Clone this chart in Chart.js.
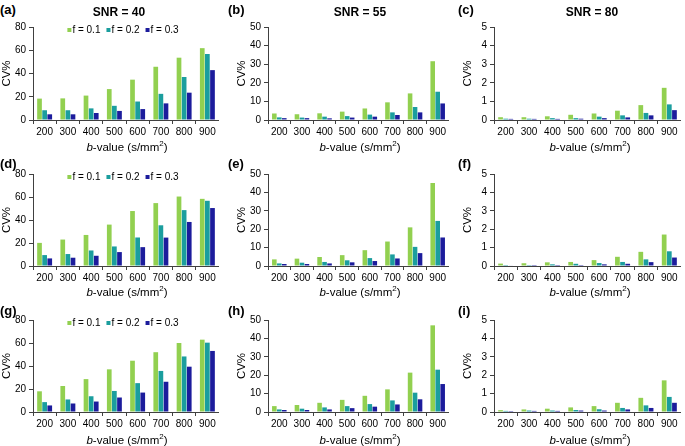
<!DOCTYPE html>
<html>
<head>
<meta charset="utf-8">
<script src="https://cdn.jsdelivr.net/npm/chart.js@4.4.1/dist/chart.umd.min.js"></script>
<style>
  body { margin: 0; background: #fff; width: 685px; height: 446px; position: relative; overflow: hidden;
         font-family: "Liberation Sans", Arial, sans-serif; color: #000; }
  .panel { position: absolute; }
  .lab { position: absolute; font-weight: bold; font-size: 13px; line-height: 13px; }
  .snr { position: absolute; font-weight: bold; font-size: 12px; line-height: 12px; width: 120px; text-align: center; }
  .xt { position: absolute; font-size: 11.5px; line-height: 12px; width: 120px; text-align: center; }
  .xt sup { font-size: 8px; line-height: 0; }
</style>
</head>
<body>
<script>
// b-values on the x axis and the three perfusion fractions
const bValues = ['200', '300', '400', '500', '600', '700', '800', '900'];
const fLabels = ['f = 0.1', 'f = 0.2', 'f = 0.3'];
const fColors = ['#92D050', '#1B9E9E', '#1C1C9C'];

// CV%, one array per series per panel
const a01 = [18.4, 18.6, 21, 26.6, 34.7, 45.8, 53.6, 61.8];
const a02 = [8.4, 8.4, 10, 12.2, 15.9, 22.5, 37, 56.8];
const a03 = [4.9, 4.9, 6, 7.8, 9.4, 14.3, 23.5, 42.9];

const b01 = [3.5, 3.1, 3.6, 4.5, 6.2, 9.5, 14.3, 31.6];
const b02 = [1.4, 1.3, 1.8, 2.1, 2.9, 4.1, 7, 15.2];
const b03 = [1.0, 1.0, 0.9, 1.3, 1.8, 2.7, 4.1, 8.9];

const c01 = [0.15, 0.15, 0.2, 0.28, 0.35, 0.5, 0.8, 1.73];
const c02 = [0.07, 0.07, 0.1, 0.1, 0.18, 0.25, 0.38, 0.84];
const c03 = [0.06, 0.06, 0.06, 0.07, 0.1, 0.14, 0.25, 0.53];

const d01 = [20.1, 23, 27, 36, 47.8, 54.7, 60.4, 58.4];
const d02 = [9.5, 10.4, 13.5, 17, 24.8, 35.4, 48.6, 56.7];
const d03 = [6.6, 7.2, 8.9, 12.1, 16.4, 24.7, 38.3, 50.4];

const e01 = [3.6, 4.0, 4.9, 5.9, 8.6, 13.3, 21, 45.1];
const e02 = [1.4, 1.8, 2.2, 3.1, 4.3, 6.3, 10.4, 24.5];
const e03 = [1.1, 1.1, 1.4, 2.0, 2.7, 4.1, 7.0, 15.5];

const f01 = [0.13, 0.15, 0.2, 0.22, 0.32, 0.5, 0.77, 1.71];
const f02 = [0.05, 0.05, 0.09, 0.12, 0.16, 0.22, 0.36, 0.8];
const f03 = [0.03, 0.05, 0.05, 0.05, 0.09, 0.12, 0.21, 0.46];

const g01 = [18, 22.6, 28.6, 37.1, 44.6, 52, 60, 62.9];
const g02 = [8.6, 10.9, 13.7, 18.3, 25.1, 35.7, 48.3, 60.3];
const g03 = [5.7, 7.4, 9.1, 12.6, 16.9, 26.3, 39.4, 53.1];

const h01 = [3.2, 3.8, 5.0, 6.6, 8.8, 12.3, 21.4, 47.1];
const h02 = [1.4, 1.8, 2.5, 3.2, 4.3, 6.3, 10.5, 23];
const h03 = [1.1, 1.1, 1.4, 2.1, 2.9, 4.1, 6.9, 15.2];

const i01 = [0.1, 0.14, 0.18, 0.25, 0.32, 0.5, 0.77, 1.72];
const i02 = [0.06, 0.08, 0.08, 0.11, 0.15, 0.22, 0.36, 0.82];
const i03 = [0.05, 0.06, 0.06, 0.08, 0.08, 0.14, 0.22, 0.5];

// axis ranges per column
const yMax = [80, 50, 5];
const yStep = [20, 10, 1];
const snrTitles = ['SNR = 40', 'SNR = 55', 'SNR = 80'];

const panels = [
  ['(a)', [a01, a02, a03]], ['(b)', [b01, b02, b03]], ['(c)', [c01, c02, c03]],
  ['(d)', [d01, d02, d03]], ['(e)', [e01, e02, e03]], ['(f)', [f01, f02, f03]],
  ['(g)', [g01, g02, g03]], ['(h)', [h01, h02, h03]], ['(i)', [i01, i02, i03]]
];

// page geometry
const colLeft = [0, 235, 461];
const colWidth = [219, 214, 220];
const rowTop = [18, 165, 311];
const rowHeight = [124, 123, 123];
const labelTop = [3, 157, 304];
const labelLeft = [0, 228, 458];
const xTitleTop = [141, 286, 434];
const xTitleCenter = [127, 360, 590];
const snrCenter = [119, 360, 592];

const axisColor = '#404040';
const font = { family: '"Liberation Sans", Arial, sans-serif', size: 10 };

// legend drawn inside the plot area, along the top
const innerLegend = {
  id: 'innerLegend',
  afterDraw(chart, args, opts) {
    if (!opts.show) return;
    const ctx = chart.ctx;
    const area = chart.chartArea;
    ctx.save();
    ctx.font = '10px "Liberation Sans", Arial, sans-serif';
    ctx.textBaseline = 'middle';
    const box = 4, gap = 1, spacing = 6;
    const items = chart.data.datasets.map(ds => ({ text: ds.label, color: ds.backgroundColor,
      w: box + gap + ctx.measureText(ds.label).width }));
    const total = items.reduce((s, it) => s + it.w, 0) + spacing * (items.length - 1);
    let x = (area.left + area.right) / 2 - total / 2 - 3;
    const y = area.top + opts.offset;
    items.forEach(it => {
      ctx.fillStyle = it.color;
      ctx.fillRect(x, y - box / 2, box, box);
      ctx.fillStyle = '#000';
      ctx.fillText(it.text, x + box + gap, y);
      x += it.w + spacing;
    });
    ctx.restore();
  }
};

function addText(cls, html, left, top) {
  const el = document.createElement('div');
  el.className = cls;
  el.innerHTML = html;
  el.style.left = left + 'px';
  el.style.top = top + 'px';
  document.body.appendChild(el);
}

panels.forEach(([label, series], k) => {
  const row = Math.floor(k / 3), col = k % 3;
  const wrap = document.createElement('div');
  wrap.className = 'panel';
  wrap.style.left = colLeft[col] + 'px';
  wrap.style.top = rowTop[row] + 'px';
  wrap.style.width = colWidth[col] + 'px';
  wrap.style.height = rowHeight[row] + 'px';
  const canvas = document.createElement('canvas');
  wrap.appendChild(canvas);
  document.body.appendChild(wrap);

  addText('lab', label, labelLeft[col], labelTop[row]);
  addText('xt', '<i>b</i>-value (s/mm<sup>2</sup>)', xTitleCenter[col] - 60, xTitleTop[row]);
  if (row === 0) addText('snr', snrTitles[col], snrCenter[col] - 60, 6);

  new Chart(canvas, {
    type: 'bar',
    data: {
      labels: bValues,
      datasets: series.map((vals, j) => ({
        label: fLabels[j],
        data: vals,
        backgroundColor: fColors[j],
        borderWidth: 0,
        categoryPercentage: 0.66,
        barPercentage: 0.92
      }))
    },
    options: {
      responsive: true,
      maintainAspectRatio: false,
      animation: false,
      layout: { padding: { top: 8, right: 0, left: 0, bottom: 0 } },
      plugins: {
        legend: { display: false },
        tooltip: { enabled: false },
        innerLegend: { show: col === 0, offset: 3 }
      },
      scales: {
        x: {
          grid: { display: true, drawOnChartArea: false, drawTicks: true, tickLength: 4,
                  color: axisColor, offset: true },
          border: { display: true, color: axisColor, width: 1 },
          ticks: { color: '#000', font: font, padding: 2, maxRotation: 0, autoSkip: false },
          afterFit: scale => { scale.height = 22; }
        },
        y: {
          min: 0,
          max: yMax[col],
          grid: { display: true, drawOnChartArea: false, drawTicks: true, tickLength: 4, color: axisColor },
          border: { display: true, color: axisColor, width: 1 },
          ticks: { stepSize: yStep[col], color: '#000', font: font, padding: 3 },
          title: { display: true, text: 'CV%', color: '#000',
                   font: { family: font.family, size: 11.5 }, padding: { top: 0, bottom: 0 } },
          afterFit: scale => { scale.width = 33; }
        }
      }
    },
    plugins: [innerLegend]
  });
});
</script>
</body>
</html>
